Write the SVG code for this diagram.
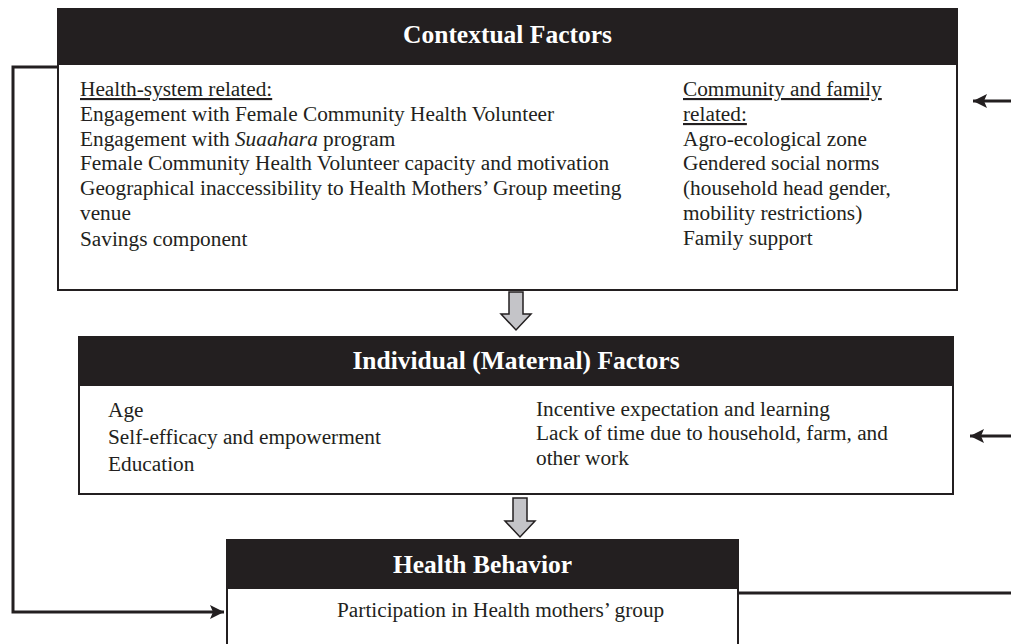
<svg xmlns="http://www.w3.org/2000/svg" width="1011" height="644" viewBox="0 0 1011 644">
<defs>
<style>
.box{fill:#fff;stroke:#231f20;stroke-width:2}
.hdr{fill:#231f20}
.title{font-family:"Liberation Serif","Times New Roman",serif;font-weight:bold;font-size:25.5px;fill:#fff;text-anchor:middle}
.body{font-family:"Liberation Serif","Times New Roman",serif;font-size:21.3px;fill:#231f20}
.u{text-decoration:underline}
.conn{fill:none;stroke:#231f20;stroke-width:3}
.gray{fill:#c4c4c8;stroke:#231f20;stroke-width:1.5;stroke-linejoin:miter}
</style>
<marker id="ah" markerUnits="userSpaceOnUse" markerWidth="16" markerHeight="14" refX="14" refY="7" orient="auto">
<path d="M0,0 L14,7 L0,14 L3,7 Z" fill="#231f20"/>
</marker>
</defs>

<g id="contextual">
<rect class="box" x="58" y="9" width="899" height="281"/>
<rect class="hdr" x="57" y="8" width="901" height="57"/>
<text class="title" x="507.5" y="43">Contextual Factors</text>
<text class="body" x="80" y="96"><tspan class="u">Health-system related:</tspan></text>
<text class="body" x="80" y="121">Engagement with Female Community Health Volunteer</text>
<text class="body" x="80" y="146">Engagement with <tspan font-style="italic">Suaahara</tspan> program</text>
<text class="body" x="80" y="170">Female Community Health Volunteer capacity and motivation</text>
<text class="body" x="80" y="195">Geographical inaccessibility to Health Mothers’ Group meeting</text>
<text class="body" x="80" y="220">venue</text>
<text class="body" x="80" y="246">Savings component</text>
<text class="body" x="683" y="96"><tspan class="u">Community and family</tspan></text>
<text class="body" x="683" y="121"><tspan class="u">related:</tspan></text>
<text class="body" x="683" y="146">Agro-ecological zone</text>
<text class="body" x="683" y="170">Gendered social norms</text>
<text class="body" x="683" y="195">(household head gender,</text>
<text class="body" x="683" y="220">mobility restrictions)</text>
<text class="body" x="683" y="245">Family support</text>
</g>

<g id="individual">
<rect class="box" x="79" y="337" width="874" height="157"/>
<rect class="hdr" x="78" y="336" width="876" height="50"/>
<text class="title" x="516" y="369">Individual (Maternal) Factors</text>
<text class="body" x="108" y="417">Age</text>
<text class="body" x="108" y="444">Self-efficacy and empowerment</text>
<text class="body" x="108" y="471">Education</text>
<text class="body" x="536" y="416">Incentive expectation and learning</text>
<text class="body" x="536" y="440">Lack of time due to household, farm, and</text>
<text class="body" x="536" y="465">other work</text>
</g>

<g id="behavior">
<rect class="box" x="227" y="540" width="511" height="120"/>
<rect class="hdr" x="226" y="539" width="513" height="50"/>
<text class="title" x="482.5" y="573">Health Behavior</text>
<text class="body" x="337" y="617">Participation in Health mothers’ group</text>
</g>

<g id="connectors">
<path class="gray" d="M509,292 L523,292 L523,314 L531,314 L516,330 L501,314 L509,314 Z"/>
<path class="gray" d="M513,498 L527,498 L527,521 L535,521 L520,537 L505,521 L513,521 Z"/>
<path class="conn" d="M58,67 L13,67 L13,612 L224,612" marker-end="url(#ah)"/>
<path class="conn" d="M1011,101 L973,101" marker-end="url(#ah)"/>
<path class="conn" d="M1011,436 L970,436" marker-end="url(#ah)"/>
<path class="conn" d="M738,593 L1011,593" stroke-width="3.5"/>
</g>
</svg>
